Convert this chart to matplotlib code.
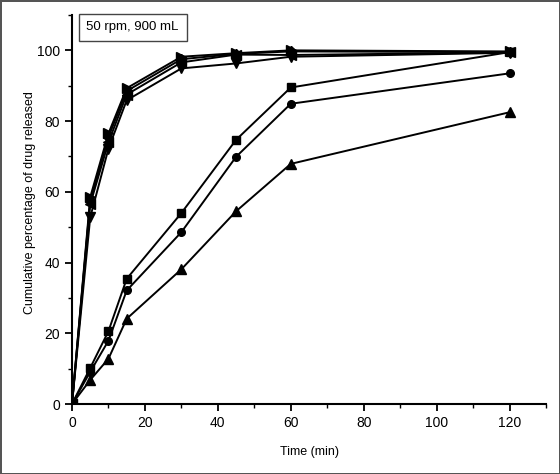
import matplotlib
matplotlib.use("Agg")
import matplotlib.pyplot as plt
from matplotlib.ticker import MultipleLocator

plt.rcParams['font.family'] = ['Liberation Sans', 'DejaVu Sans']

time = [0, 5, 10, 15, 30, 45, 60, 120]
fast_right = [0, 58.5, 76.5, 89.3, 98.2, 99.2, 100.0, 99.7]
fast_diamond = [0, 57.5, 75.5, 88.5, 97.5, 99.0, 99.7, 99.5]
fast_left = [0, 56.5, 74.0, 87.5, 96.6, 98.8, 98.7, 99.4]
fast_down = [0, 52.8, 72.2, 85.9, 94.9, 96.3, 98.2, 99.3]
slow_square = [0, 10.2, 20.6, 35.4, 54.0, 74.7, 89.5, 99.5]
slow_circle = [0, 9.1, 17.9, 32.1, 48.6, 69.9, 84.9, 93.5]
slow_triangle = [0, 6.8, 12.8, 24.1, 38.1, 54.5, 67.9, 82.5]

series = [
    (fast_right, '>'), (fast_diamond, 'D'), (fast_left, '<'), (fast_down, 'v'),
    (slow_square, 's'), (slow_circle, 'o'), (slow_triangle, '^'),
]

fig = plt.figure(figsize=(5.6, 4.74), dpi=100)
fig.patch.set_edgecolor('#555555')
fig.patch.set_linewidth(2)
ax = fig.add_axes([72/560, 70/474, 474/560, 389/474])

for vals, m in series:
    ms = 5.5 if m in ('D', 's', 'o') else 6.5
    ax.plot(time, vals, color='black', lw=1.4, marker=m, markersize=ms)

ax.set_xlim(0, 130)
ax.set_ylim(0, 110)
ax.xaxis.set_major_locator(MultipleLocator(20))
ax.xaxis.set_minor_locator(MultipleLocator(10))
ax.yaxis.set_major_locator(MultipleLocator(20))
ax.yaxis.set_minor_locator(MultipleLocator(10))
ax.set_yticks([0, 20, 40, 60, 80, 100])
for s in ['top', 'right']:
    ax.spines[s].set_visible(False)
for s in ['left', 'bottom']:
    ax.spines[s].set_linewidth(1.5)
ax.tick_params(which='major', direction='out', length=5, width=1.3, labelsize=10)
ax.tick_params(which='minor', direction='out', length=3, width=1.0)

ax.set_xlabel('Time (min)', fontsize=9)
ax.xaxis.set_label_coords(0.5, -0.108)
ax.set_ylabel('Cumulative percentage of drug released', fontsize=9)
ax.yaxis.label.set_va('center')
ax.yaxis.set_label_coords(-0.088, 0.517)

ax.text(0.128, 0.968, '50 rpm, 900 mL', transform=ax.transAxes, fontsize=9.5,
        ha='center', va='center',
        bbox=dict(boxstyle='square,pad=0.6', fc='white', ec='#444444', lw=1.0))

fig.savefig('out.png', dpi=100)
